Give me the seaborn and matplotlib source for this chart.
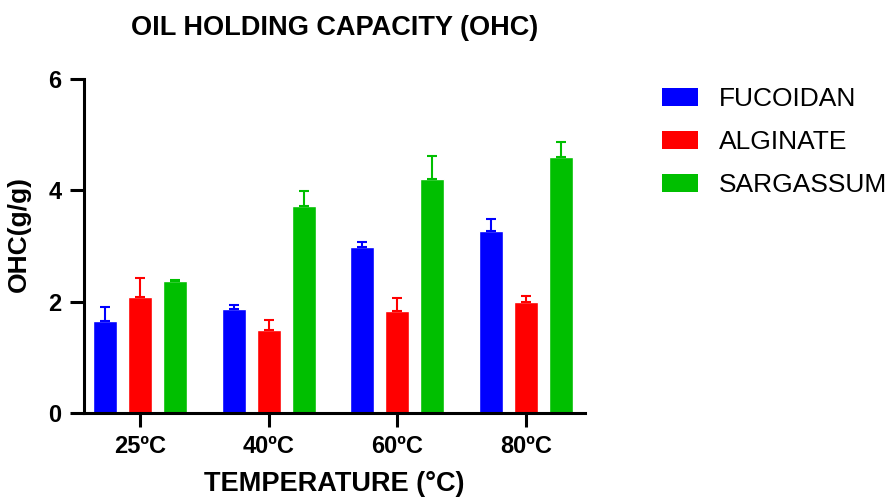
import numpy as np
import pandas as pd
import seaborn as sns
import matplotlib.pyplot as plt
from matplotlib.patches import Patch

# Données
temperatures = ['25ºC', '40ºC', '60ºC', '80ºC']
series = ['FUCOIDAN', 'ALGINATE', 'SARGASSUM']
fucoidan = [1.65, 1.86, 2.99, 3.27]
alginate = [2.09, 1.49, 1.84, 1.99]
sargassum = [2.37, 3.72, 4.21, 4.59]
fucoidan_err = [0.26, 0.08, 0.08, 0.21]
alginate_err = [0.33, 0.18, 0.22, 0.11]
sargassum_err = [0.02, 0.27, 0.41, 0.27]
couleurs = ['#0000FF', '#FF0000', '#00BF00']

df = pd.DataFrame({
    'temp': temperatures * 3,
    'serie': np.repeat(series, 4),
    'ohc': fucoidan + alginate + sargassum,
})
erreurs = [fucoidan_err, alginate_err, sargassum_err]
moyennes = [fucoidan, alginate, sargassum]

sns.set_style('white')
plt.rcParams['font.family'] = ['Liberation Sans', 'DejaVu Sans']
plt.rcParams.update({'text.color': 'black', 'axes.labelcolor': 'black',
                     'xtick.color': 'black', 'ytick.color': 'black'})
etroite = ['Liberation Sans Narrow', 'Liberation Sans', 'DejaVu Sans']

fig = plt.figure(figsize=(8.92, 5), dpi=100)
ax = fig.add_axes([0.094, 0.174, 0.562, 0.668])

sns.barplot(data=df, x='temp', y='ohc', hue='serie', palette=couleurs,
            width=0.816, gap=0.315, errorbar=None, ax=ax, legend=False,
            saturation=1)

# Barres d'erreur (uniquement vers le haut)
for cont, m, e, c in zip(ax.containers, moyennes, erreurs, couleurs):
    xs = [p.get_x() + p.get_width() / 2 for p in cont.patches]
    ax.errorbar(xs, m, yerr=[np.zeros(len(e)), e], fmt='none', ecolor=c,
                elinewidth=1.5, capsize=3.5, capthick=1.5, zorder=1)

ax.set_xlim(-0.435, 3.46)
ax.set_ylim(0, 6)
ax.set_yticks([0, 2, 4, 6])
sns.despine(ax=ax)
for s in ['left', 'bottom']:
    ax.spines[s].set_linewidth(2.2)
    ax.spines[s].set_color('black')
ax.tick_params(axis='both', length=10, width=2.2, color='black', labelsize=17,
               bottom=True, left=True, pad=6)
for lab in ax.get_xticklabels() + ax.get_yticklabels():
    lab.set_fontweight('bold')
    lab.set_family(etroite)

ax.set_xlabel('TEMPERATURE (°C)', fontsize=19.5, fontweight='bold', labelpad=9)
ax.set_ylabel('OHC(g/g)', fontsize=19, fontweight='bold', family=etroite)
ax.yaxis.set_label_coords(-0.105, 0.535)
ax.set_title('OIL HOLDING CAPACITY (OHC)', fontsize=19.5, fontweight='bold', pad=32)

handles = [Patch(facecolor=c, edgecolor='none') for c in couleurs]
fig.legend(handles, series, loc='upper left', bbox_to_anchor=(0.742, 0.826),
           frameon=False, fontsize=19, handlelength=1.36, handleheight=0.68,
           handletextpad=0.8, labelspacing=0.72, borderpad=0, borderaxespad=0)

plt.savefig('out.png', dpi=100)
